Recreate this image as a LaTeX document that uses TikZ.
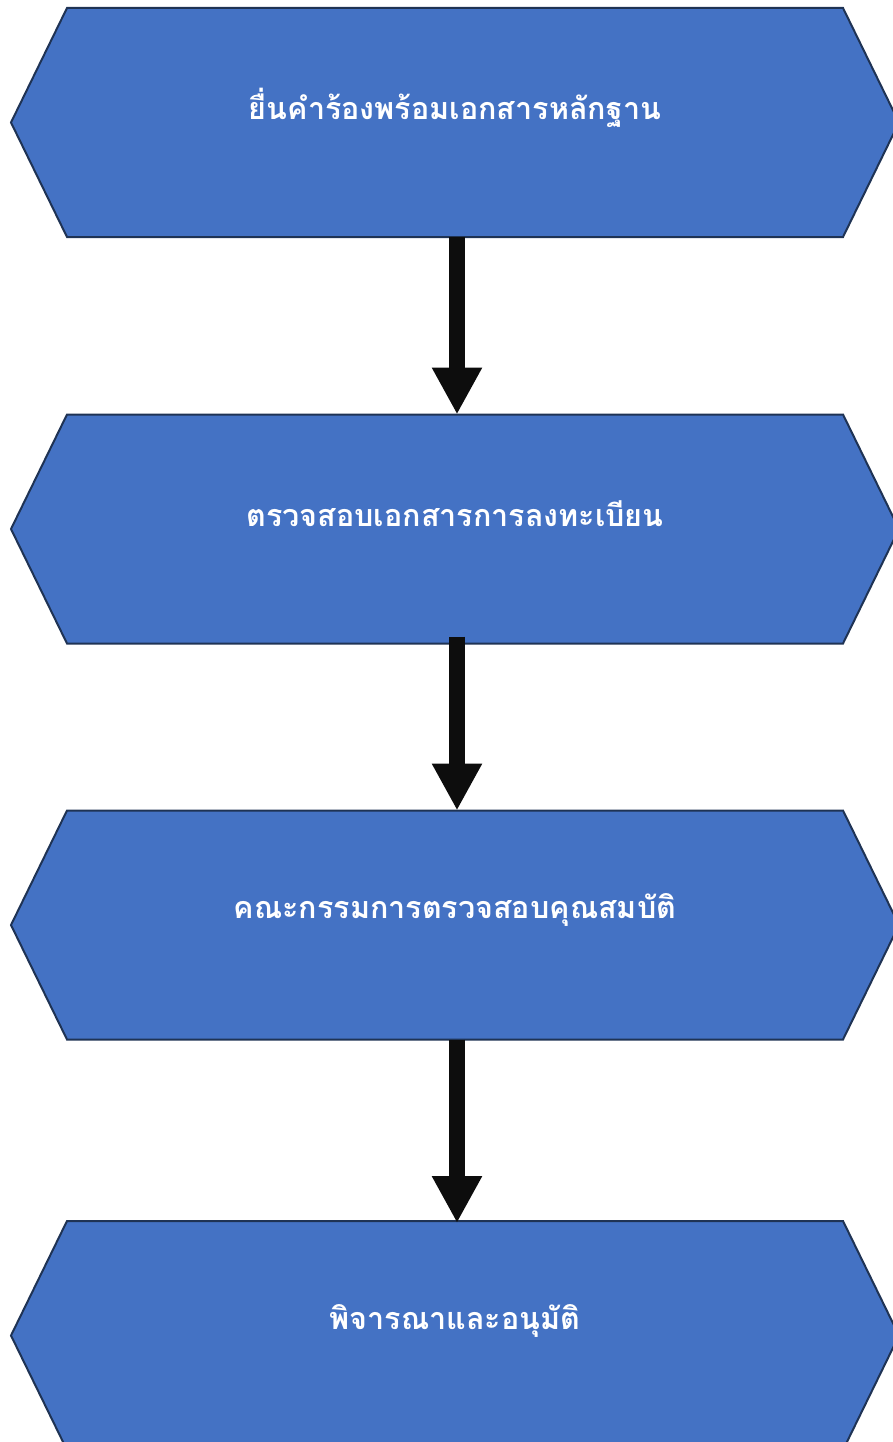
\documentclass[tikz,border=0pt]{standalone}
\usepackage{fontspec}
\newfontfamily\thaifont[Script=Thai]{Loma}
\usetikzlibrary{arrows.meta}
\definecolor{boxfill}{HTML}{4472C4}
\definecolor{boxline}{HTML}{1F3354}
\definecolor{arrowcol}{HTML}{0D0D0D}
\tikzset{
  x=1pt, y=1pt,
  boxarea/.style={minimum width=776pt, minimum height=229pt, inner sep=0pt, outer sep=0pt},
  hexshape/.style={fill=boxfill, draw=boxline, line width=2pt, line join=miter},
  boxtext/.style={text=white, font=\thaifont\bfseries\fontsize{30.5}{36}\selectfont, inner sep=0pt},
  flowarrow/.style={draw=arrowcol, line width=16pt, -{Triangle[width=47pt,length=47pt,fill=arrowcol]}}
}
\newcommand{\hexpath}[1]{%
  \path[hexshape] (#1.north west) -- (#1.north east) -- ([xshift=56pt]#1.east) -- (#1.south east) -- (#1.south west) -- ([xshift=-56pt]#1.west) -- cycle;}
\begin{document}
\begin{tikzpicture}
\useasboundingbox (0,0) rectangle (892,-1442);
\node[boxarea] (b1) at (455,-122.5) {};
\node[boxarea] (b2) at (455,-529) {};
\node[boxarea] (b3) at (455,-925) {};
\node[boxarea] (b4) at (455,-1335.5) {};
\hexpath{b1}
\hexpath{b2}
\hexpath{b3}
\hexpath{b4}
\node[boxtext] (t1) at ([yshift=15pt]b1.center) {ยื่นคำร้องพร้อมเอกสารหลักฐาน};
\node[boxtext] (t2) at ([yshift=15pt]b2.center) {ตรวจสอบเอกสารการลงทะเบียน};
\node[boxtext] (t3) at ([yshift=15pt]b3.center) {คณะกรรมการตรวจสอบคุณสมบัติ};
\node[boxtext] (t4) at ([yshift=15pt]b4.center) {พิจารณาและอนุมัติ};
\draw[flowarrow] ([xshift=2pt]b1.south) -- ([xshift=2pt]b2.north);
\draw[flowarrow] ([xshift=2pt,yshift=7pt]b2.south) -- ([xshift=2pt]b3.north);
\draw[flowarrow] ([xshift=2pt]b3.south) -- ([xshift=2pt,yshift=-2pt]b4.north);
\end{tikzpicture}
\end{document}
